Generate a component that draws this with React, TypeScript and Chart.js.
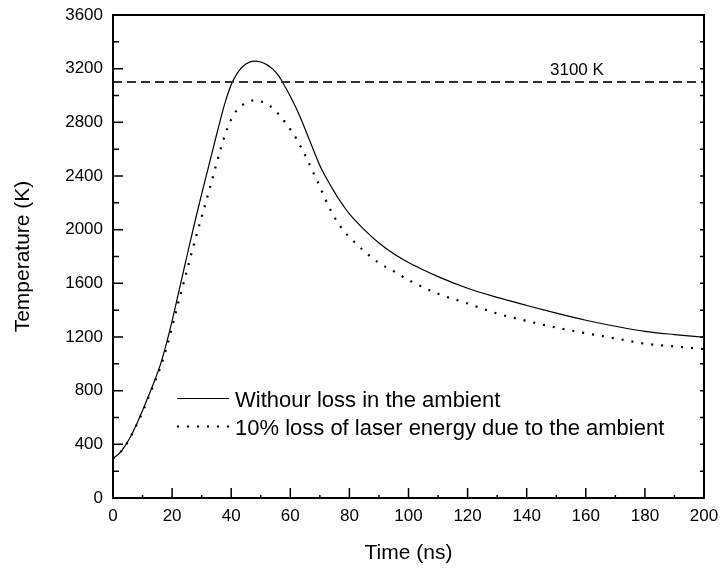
import { useEffect, useRef } from "react";
import { Chart, registerables } from "chart.js";

Chart.register(...registerables);

// ---- data ----
const timeNs = [
  0, 2, 4, 6, 8, 10, 12, 14, 16, 18, 20, 22, 24, 26, 28, 30, 32, 34, 36, 38, 40,
  42, 44, 46, 48, 50, 52, 54, 56, 58, 60, 62, 64, 66, 68, 70, 72, 74, 76, 78, 80,
  85, 90, 95, 100, 110, 120, 130, 140, 150, 160, 170, 180, 190, 200,
];
const tempNoLoss = [
  295, 330, 385, 460, 552, 652, 760, 870, 992, 1145, 1320, 1512, 1705, 1898, 2085, 2265, 2440, 2615, 2790, 2952, 3080,
  3165, 3218, 3247, 3256, 3250, 3230, 3198, 3148, 3075, 2995, 2905, 2805, 2695, 2585, 2478, 2392, 2315, 2242, 2177, 2117,
  2000, 1900, 1820, 1755, 1650, 1563, 1495, 1435, 1378, 1325, 1280, 1242, 1218, 1198,
];
const tempWithLoss = [
  295, 330, 383, 458, 545, 640, 750, 858, 972, 1112, 1275, 1448, 1612, 1777, 1940, 2095, 2250, 2410, 2568, 2713, 2822,
  2893, 2932, 2956, 2964, 2956, 2935, 2908, 2862, 2808, 2748, 2680, 2598, 2510, 2415, 2320, 2220, 2130, 2055, 1993, 1945,
  1840, 1752, 1690, 1625, 1522, 1450, 1375, 1320, 1270, 1228, 1190, 1150, 1130, 1110,
];
const thresholdTemp = 3100;
const thresholdLabel = "3100 K";
const thresholdLabelTime = 157;
const seriesLabels = [
  "Withour loss in the ambient",
  "10% loss of laser energy due to the ambient",
];
const xMin = 0;
const xMax = 200;
const xMajorStep = 20;
const yMin = 0;
const yMax = 3600;
const yMajorStep = 400;
const xTitle = "Time (ns)";
const yTitle = "Temperature (K)";

const FONT = '"Liberation Sans", Arial, Helvetica, sans-serif';

const decorPlugin = {
  id: "decor",
  afterDraw(chart: any) {
    const { ctx, chartArea: a, scales } = chart;
    const xs = scales.x;
    const ys = scales.y;
    ctx.save();
    ctx.strokeStyle = "#000";
    ctx.lineWidth = 1.5;
    ctx.setLineDash([]);
    ctx.beginPath();
    // y ticks (major + minor), inward on left and right
    for (let v = yMin; v <= yMax; v += yMajorStep / 2) {
      const py = ys.getPixelForValue(v);
      const major = (v - yMin) % yMajorStep === 0;
      ctx.moveTo(a.left, py);
      ctx.lineTo(a.left + (major ? 10 : 6), py);
      ctx.moveTo(a.right, py);
      ctx.lineTo(a.right - 4, py);
    }
    // x ticks (major + minor), inward at bottom
    for (let v = xMin; v <= xMax; v += xMajorStep / 2) {
      const px = xs.getPixelForValue(v);
      const major = (v - xMin) % xMajorStep === 0;
      ctx.moveTo(px, a.bottom);
      ctx.lineTo(px, a.bottom - (major ? 10 : 3));
    }
    ctx.stroke();

    // frame
    ctx.lineWidth = 2;
    ctx.strokeRect(a.left, a.top, a.right - a.left, a.bottom - a.top);

    // threshold label
    ctx.fillStyle = "#000";
    ctx.font = `17px ${FONT}`;
    ctx.textAlign = "center";
    ctx.textBaseline = "alphabetic";
    ctx.fillText(
      thresholdLabel,
      xs.getPixelForValue(thresholdLabelTime),
      ys.getPixelForValue(thresholdTemp) - 7
    );

    // legend inside plot
    const lx0 = a.left + 64;
    const lx1 = a.left + 116;
    const tx = a.left + 122;
    const row1 = a.bottom - 99.5;
    const row2 = a.bottom - 71.5;
    ctx.lineWidth = 1.2;
    ctx.beginPath();
    ctx.moveTo(lx0, row1);
    ctx.lineTo(lx1, row1);
    ctx.stroke();
    ctx.lineWidth = 2.2;
    ctx.setLineDash([2, 8]);
    ctx.beginPath();
    ctx.moveTo(lx0, row2);
    ctx.lineTo(lx1 + 2, row2);
    ctx.stroke();
    ctx.setLineDash([]);
    ctx.font = `22px ${FONT}`;
    ctx.textAlign = "left";
    ctx.fillText(seriesLabels[0], tx, a.bottom - 91.3);
    ctx.fillText(seriesLabels[1], tx, a.bottom - 63);
    ctx.restore();
  },
};

export default function App() {
  const ref = useRef<HTMLCanvasElement | null>(null);

  useEffect(() => {
    if (!ref.current) return;
    const solid = timeNs.map((t, i) => ({ x: t, y: tempNoLoss[i] }));
    const dotted = timeNs.map((t, i) => ({ x: t, y: tempWithLoss[i] }));
    const threshold = [
      { x: xMin, y: thresholdTemp },
      { x: xMax, y: thresholdTemp },
    ];
    const chart = new Chart(ref.current, {
      type: "line",
      data: {
        datasets: [
          {
            label: "3100 K",
            data: threshold,
            borderColor: "#333",
            borderWidth: 2,
            borderDash: [9, 5],
            pointRadius: 0,
          },
          {
            label: seriesLabels[0],
            data: solid,
            borderColor: "#000",
            borderWidth: 1.2,
            pointRadius: 0,
            cubicInterpolationMode: "monotone",
          },
          {
            label: seriesLabels[1],
            data: dotted,
            borderColor: "#000",
            borderWidth: 2.2,
            borderDash: [2, 8],
            borderCapStyle: "butt",
            pointRadius: 0,
            cubicInterpolationMode: "monotone",
          },
        ],
      },
      options: {
        animation: false,
        responsive: false,
        devicePixelRatio: 1,
        layout: { padding: { top: 15, right: 18, left: 0, bottom: 0 } },
        plugins: {
          legend: { display: false },
          tooltip: { enabled: false },
        },
        scales: {
          x: {
            type: "linear",
            min: xMin,
            max: xMax,
            grid: { display: false, drawTicks: false },
            border: { display: false },
            ticks: {
              stepSize: xMajorStep,
              color: "#000",
              font: { family: FONT, size: 17 },
              padding: 8,
              maxRotation: 0,
              callback: (v: any) => String(v),
            },
            title: {
              display: true,
              text: xTitle,
              color: "#000",
              font: { family: FONT, size: 21 },
              padding: { top: 0, bottom: 5 },
            },
            afterFit: (s: any) => {
              s.height = 73;
              s.paddingLeft = 0;
              s.paddingRight = 0;
            },
          },
          y: {
            min: yMin,
            max: yMax,
            grid: { display: false, drawTicks: false },
            border: { display: false },
            ticks: {
              stepSize: yMajorStep,
              color: "#000",
              font: { family: FONT, size: 17 },
              padding: 10,
              callback: (v: any) => String(v),
            },
            title: {
              display: true,
              text: yTitle,
              color: "#000",
              font: { family: FONT, size: 21 },
              padding: { top: 11, bottom: 0 },
            },
            afterFit: (s: any) => {
              s.width = 113;
              s.paddingTop = 0;
              s.paddingBottom = 0;
            },
          },
        },
      },
      plugins: [decorPlugin],
    });
    return () => chart.destroy();
  }, []);

  return (
    <div style={{ position: "fixed", left: 0, top: 0, width: 722, height: 571, background: "#fff" }}>
      <canvas ref={ref} width={722} height={571} style={{ width: 722, height: 571 }} />
    </div>
  );
}
